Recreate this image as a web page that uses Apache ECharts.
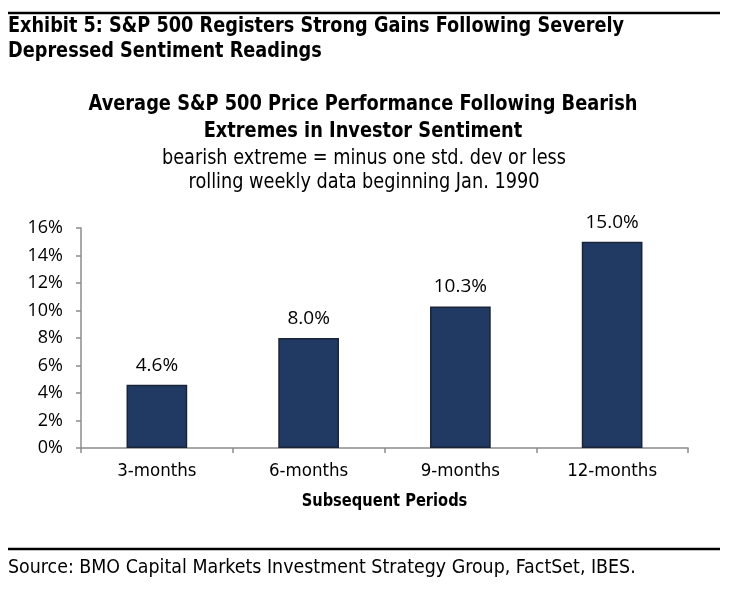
<!DOCTYPE html>
<html><head><meta charset="utf-8">
<script src="https://cdn.jsdelivr.net/npm/echarts@6/dist/echarts.min.js"></script>
<style>html,body{margin:0;padding:0;background:#fff}#c{width:730px;height:592px}</style>
</head><body><div id="c"></div>
<script>
const categories = ['3-months', '6-months', '9-months', '12-months'];
const values = [4.6, 8.0, 10.3, 15.0];
const yTicks = [0, 2, 4, 6, 8, 10, 12, 14, 16];

const COND = '"DejaVu Sans Condensed", "Liberation Sans Narrow", sans-serif';
const REG = '"Open Sans", "Noto Sans", sans-serif';

function txt(x, y, s, font, align, sx) {
  return { type: 'text', x: x, y: y, scaleX: sx || 1, style: { text: s, font: font, fill: '#000', align: align || 'left', verticalAlign: 'top' } };
}

const chart = echarts.init(document.getElementById('c'));
chart.setOption({
  animation: false,
  backgroundColor: '#fff',
  graphic: [
    { type: 'line', shape: { x1: 8, y1: 13, x2: 720, y2: 13 }, style: { stroke: '#000', lineWidth: 2.5 } },
    { type: 'line', shape: { x1: 8, y1: 549, x2: 720, y2: 549 }, style: { stroke: '#000', lineWidth: 2.5 } },
    txt(8, 16, 'Exhibit 5: S&P 500 Registers Strong Gains Following Severely', 'bold 20.5px ' + COND, 'left', 0.96),
    txt(8, 41, 'Depressed Sentiment Readings', 'bold 20.5px ' + COND, 'left', 0.96),
    txt(363, 94, 'Average S&P 500 Price Performance Following Bearish', 'bold 20.5px ' + COND, 'center', 0.965),
    txt(363, 121, 'Extremes in Investor Sentiment', 'bold 20.5px ' + COND, 'center', 0.965),
    txt(364, 148, 'bearish extreme = minus one std. dev or less', '20.5px ' + COND, 'center', 0.96),
    txt(364, 172, 'rolling weekly data beginning Jan. 1990', '20.5px ' + COND, 'center', 0.96),
    txt(8, 558, 'Source: BMO Capital Markets Investment Strategy Group, FactSet, IBES.', '20px ' + COND, 'left', 0.97),
    txt(384.5, 492, 'Subsequent Periods', 'bold 18.5px ' + COND, 'center', 0.88)
  ],
  grid: { left: 81, right: 42, top: 228, bottom: 144, containLabel: false },
  xAxis: {
    type: 'category',
    data: categories,
    axisLine: { lineStyle: { color: '#8c8c8c', width: 1.5 } },
    axisTick: { show: true, length: 5, lineStyle: { color: '#8c8c8c', width: 1.5 } },
    axisLabel: { fontFamily: COND, fontSize: 18.5, color: '#000', margin: 14 }
  },
  yAxis: {
    type: 'value',
    min: 0, max: 16, interval: 2,
    axisLine: { show: true, lineStyle: { color: '#8c8c8c', width: 1.5 } },
    axisTick: { show: true, length: 5, lineStyle: { color: '#8c8c8c', width: 1.5 } },
    splitLine: { show: false },
    axisLabel: { fontFamily: REG, fontSize: 18, color: '#000', margin: 18, formatter: v => yTicks.includes(v) ? v + '%' : '' }
  },
  series: [{
    type: 'bar',
    data: values,
    barWidth: '40%',
    itemStyle: { color: '#213A63', borderColor: '#1a2438', borderWidth: 1.5 },
    label: { show: true, position: 'top', distance: 10, fontFamily: REG, fontSize: 19, color: '#000', formatter: p => p.value.toFixed(1) + '%' }
  }]
});
</script></body></html>
